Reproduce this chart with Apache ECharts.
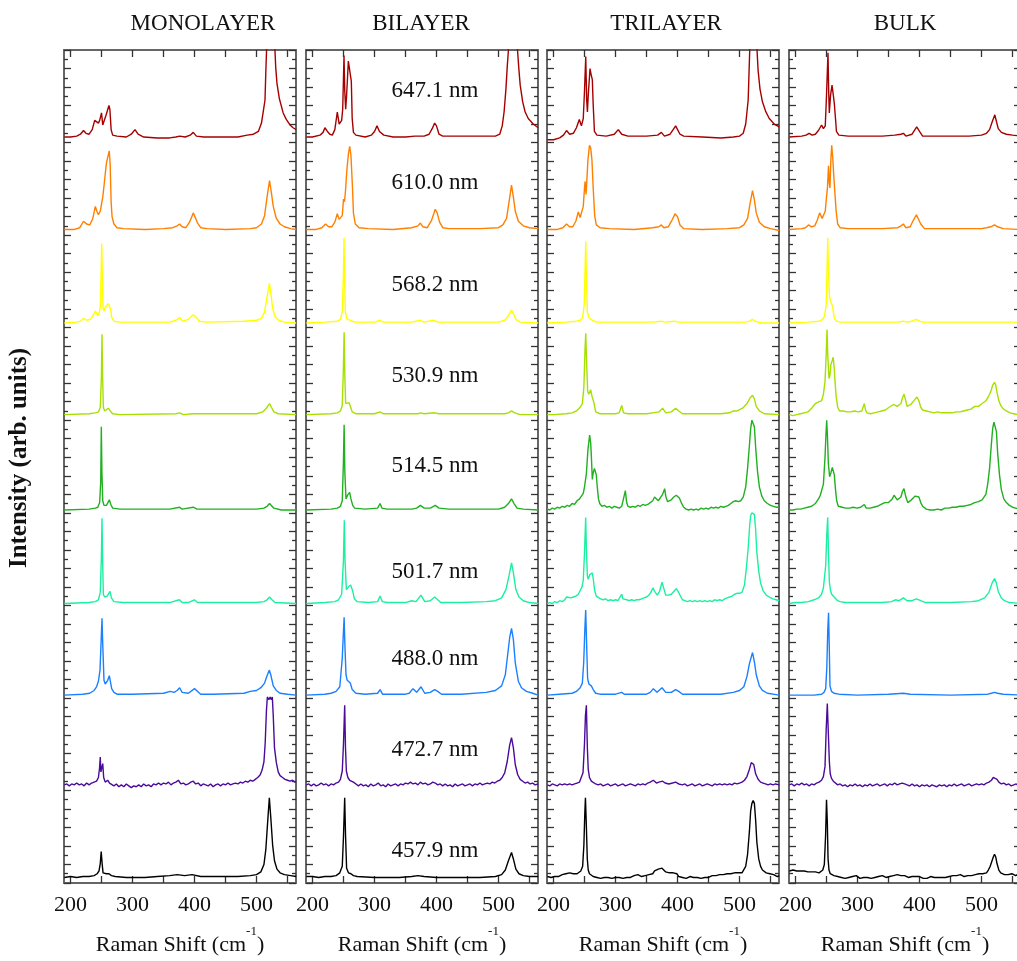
<!DOCTYPE html>
<html>
<head>
<meta charset="utf-8">
<script src="https://cdn.jsdelivr.net/npm/echarts@6/dist/echarts.min.js"></script>
<style>
  html, body { margin: 0; padding: 0; background: #fff; }
  #chart { width: 1017px; height: 961px; }
</style>
</head>
<body>
<div id="chart"></div>
<script>
// Raman spectra of few-layer samples at nine excitation wavelengths.
// Each trace: flat list of (Raman shift cm^-1, intensity above its own baseline, arb. units).

const panelTitles = ['MONOLAYER', 'BILAYER', 'TRILAYER', 'BULK'];
const wavelengths = ['457.9 nm', '472.7 nm', '488.0 nm', '501.7 nm', '514.5 nm', '530.9 nm', '568.2 nm', '610.0 nm', '647.1 nm'];
const traceColors = ['#000000', '#4a0a9a', '#1a80ff', '#1af0a0', '#20b020', '#a6e000', '#ffff00', '#ff8000', '#a50000'];
// vertical stacking offset of each wavelength (same order as wavelengths)
const offsets = [6, 106, 203, 302, 403, 506, 605, 706, 806];
const xTicks = [200, 250, 300, 350, 400, 450, 500, 550];
const xLabels = [200, 300, 400, 500];

// ---------- MONOLAYER ----------
const mono458 = [190,0, 200,1, 210,0, 220,1, 230,1, 238,2, 243,4, 246,7, 248,15, 249.5,28, 251,15, 252.5,5, 255,3, 258,4, 262,4, 266,2, 272,1, 290,0, 320,0, 340,1, 360,2, 372,3, 384,2, 396,3, 410,1, 440,1, 470,1, 490,2, 500,3, 507,6, 512,14, 515,30, 518,60, 520.7,86, 523,65, 526,35, 529,18, 533,9, 538,5, 545,3, 555,2, 564,1];
const mono473 = [190,0, 194,1, 198,-1, 202,1, 206,0, 210,2, 214,0, 218,1, 222,-1, 226,2, 230,0, 234,2, 238,3, 242,4, 245,8, 246.8,18, 248,30, 249,14, 250.5,12, 252,23, 253.5,8, 256,3, 260,5, 263,2, 266,4, 270,-1, 274,1, 278,-2, 282,0, 286,-2, 290,1, 294,-1, 298,-3, 302,-1, 306,-2, 310,0, 314,-2, 318,1, 322,-1, 326,0, 330,-2, 334,1, 338,0, 342,2, 346,0, 350,2, 354,1, 358,3, 362,0, 366,2, 370,3, 374,5, 378,1, 382,2, 386,0, 390,1, 394,3, 398,4, 402,1, 406,2, 410,-1, 414,1, 418,0, 422,-1, 426,1, 430,-2, 434,0, 438,1, 442,-1, 446,1, 450,0, 454,2, 458,0, 462,1, 466,2, 470,1, 474,3, 478,2, 482,4, 486,3, 490,5, 494,4, 498,6, 502,8, 506,11, 509,16, 512,25, 514,45, 516,80, 517.5,95, 520,92, 522,95, 524,92, 525.5,95, 527,75, 529,40, 532,24, 535,14, 538,10, 542,8, 546,6, 550,5, 554,4, 558,5, 562,3, 564,4];
const mono488 = [190,0, 220,1, 231,2, 238,5, 242,9, 245,15, 247.6,27, 249.5,60, 250.8,83, 252,55, 254,16, 256,12, 258,12, 260,16, 262.6,21, 264,16, 266.4,7, 270,3, 275,1, 300,1, 350,2, 361,4, 367,3, 372,5, 376,8, 380,3, 390,2, 400,7, 405,4, 410,1, 430,1, 480,2, 490,4, 500,5, 507,8, 513,13, 517,21, 520.7,27, 523,22, 527,10, 532,5, 538,2, 550,1, 564,0];
const mono502 = [190,0, 230,1, 240,2, 245,4, 248,12, 249.8,50, 250.8,92, 251.8,45, 253,10, 255,7, 259,8, 263.7,13, 266,6, 270,2, 285,1, 360,1, 375.5,4, 380,1, 390,1, 399.7,4, 405,1, 500,1, 512,2, 517,4, 521,7, 525,4, 530,1, 564,0];
const mono514 = [190,0, 230,1, 240,2, 244,3, 247,8, 248.7,30, 249.7,90, 250.7,40, 252,10, 254,5, 258,5, 262.6,11, 265,6, 268,2, 280,1, 360,1, 376,3, 380,1, 398,3, 404,1, 500,1, 512,2, 517,4, 521,7, 524,5, 528,2, 540,0, 564,0];
const mono531 = [190,0, 230,1, 240,2, 245,3, 248,8, 249.8,40, 250.8,87, 251.8,40, 253,8, 255,4, 258,4, 261,7, 264,4, 268,1, 280,0, 370,1, 376,2, 382,0, 398,1, 500,1, 510,3, 516,7, 521,12, 524,8, 528,3, 535,1, 564,0];
const mono568 = [190,0, 210,1, 216,2, 221,5, 226,3, 232,4, 237,9, 240,13, 244,8, 246.5,12, 248,17, 249.3,50, 250.3,86, 251.3,50, 252.5,16, 254,13, 256,17, 258,18, 261,21, 263.7,20, 265,14, 266.4,6, 270,2, 280,1, 340,1, 360,1, 370,3, 376,6, 381,2, 390,4, 398,9, 403,6, 408,2, 420,1, 480,2, 500,3, 508,5, 513,12, 517,28, 520.7,43, 523,33, 526,16, 530,7, 536,3, 545,1, 564,0];
const mono610 = [190,0, 205,0, 215,2, 221,9, 226,6, 231,5, 236,12, 240,25, 243,19, 245,16, 248,20, 250,18, 252,35, 254,47, 256,60, 258,72, 260,78, 262.5,85, 264,70, 265.5,30, 267,14, 270,6, 275,2, 285,1, 320,0, 350,1, 365,2, 372,4, 376,6, 380,3, 386,2, 392,8, 398,18, 401,16, 405,7, 410,2, 420,1, 450,0, 490,1, 500,2, 508,6, 513,15, 517,35, 521,53, 524,40, 527,25, 532,12, 538,6, 545,3, 555,1, 564,0];
const mono647 = [190,0, 200,0, 210,1, 216,3, 221,7, 225,4, 230,3, 235,8, 239,18, 242,20, 245,15, 247,18, 250,26, 252,13, 254,11, 257,23, 260,24, 262,34, 263.5,30, 265.5,8, 268,2, 275,1, 290,0, 298,3, 304,8, 309,3, 318,0, 340,-1, 360,-1, 370,0, 376,1, 385,0, 393,2, 398,5, 403,1, 415,0, 440,0, 470,0, 485,2, 495,3, 503,6, 508,15, 511,28, 513.7,40, 515,70, 516.5,100, 519,180, 522,200, 526,150, 529,105, 531,75, 533,58, 537,41, 543,26, 548,19, 554,13, 559,10, 564,8];

// ---------- BILAYER ----------
const bi458 = [190,1, 200,1, 210,0, 220,1, 230,1, 238,2, 244,5, 248,12, 250,45, 251.9,86, 253.3,45, 255,10, 258,5, 262,4, 266,2, 272,1, 300,0, 340,0, 360,1, 370,2, 380,1, 400,0, 430,0, 470,0, 495,1, 505,3, 511,8, 516,18, 521,27, 524,20, 528,9, 533,4, 540,2, 550,1, 564,1];
const bi473 = [190,0, 194,1, 198,-1, 202,1, 206,-1, 210,0, 214,2, 218,0, 222,1, 226,-1, 230,1, 234,0, 238,2, 242,3, 245,6, 248,15, 250,45, 251.9,86, 253.2,40, 254.6,15, 257,8, 260,5, 263,6, 266,3, 270,1, 274,-1, 278,1, 282,-1, 286,0, 290,-2, 294,1, 298,-1, 302,0, 306,2, 310,-1, 314,0, 318,-2, 322,1, 326,-1, 330,0, 334,1, 338,-1, 342,1, 346,0, 350,2, 354,1, 358,3, 362,1, 366,2, 370,0, 374,3, 378,1, 382,2, 386,0, 390,1, 394,3, 398,2, 402,0, 406,1, 410,-1, 414,1, 418,-1, 422,0, 426,-2, 430,1, 434,-1, 438,0, 442,1, 446,-1, 450,0, 454,1, 458,-1, 462,1, 466,0, 470,2, 474,0, 478,1, 482,2, 486,1, 490,3, 494,2, 498,4, 502,5, 506,8, 510,13, 514,25, 518,43, 521,51, 524,40, 527,22, 531,11, 535,6, 539,4, 543,2, 547,3, 551,1, 555,2, 559,0, 564,1];
const bi488 = [190,0, 220,1, 230,2, 238,4, 244,9, 248,40, 250,70, 251,84, 252.2,55, 254,22, 256,16, 259,17, 261,13, 264,6, 270,2, 285,1, 305,2, 309,6, 313,1, 350,1, 356,2, 362,7, 368,3, 375,9, 381,2, 390,3, 397,6, 402,4, 408,1, 440,1, 480,3, 495,5, 505,10, 511,22, 515,45, 518,62, 521,72, 524,60, 527,35, 532,15, 537,8, 545,4, 555,2, 564,0];
const bi502 = [190,0, 220,1, 236,2, 242,4, 247,10, 249.8,45, 251.3,90, 252.5,45, 254.6,15, 258,18, 261.5,20, 263,21, 265,13, 267.5,5, 272,2, 290,1, 305,2, 309,8, 312.5,2, 320,1, 350,1, 360,3, 367,2, 375,9, 381,2, 390,3, 397,7, 402,4, 407,1, 440,1, 480,2, 495,3, 505,6, 512,15, 517,30, 521,44, 524,33, 528,15, 533,7, 540,3, 550,1, 564,0];
const bi514 = [190,0, 230,1, 240,2, 245,4, 248,10, 249.8,50, 251,92, 252.2,40, 254,12, 256.5,16, 259.9,19, 262,12, 264.8,5, 268,2, 285,1, 305,2, 309,7, 312,2, 320,1, 360,1, 368,2, 374,5, 380,2, 390,2, 398,5, 404,2, 420,1, 500,1, 510,3, 516,7, 521,12, 525,7, 530,2, 540,1, 564,0];
const bi531 = [190,0, 230,1, 240,2, 245,4, 248,10, 249.8,50, 251,89, 252.2,40, 253.5,12, 256,10, 259,13, 261,9, 264,3, 270,1, 300,1, 309,3, 314,1, 370,1, 374,2, 380,1, 397,2, 404,1, 510,1, 516,2, 521,4, 526,2, 535,0, 564,0];
const bi568 = [190,0, 220,1, 240,2, 245,4, 248,12, 249.8,50, 250.8,92, 251.8,45, 253,12, 255,5, 260,3, 268,1, 300,1, 309,3, 314,1, 360,1, 374,3, 380,1, 395,3, 402,1, 500,1, 510,3, 516,8, 521,14, 524,10, 528,4, 535,1, 564,0];
const bi610 = [190,0, 205,0, 215,2, 221,6, 226,3, 231,3, 236,8, 240,17, 243,11, 245,10, 248,15, 250,33, 251.5,30, 253,40, 255.5,65, 258,82, 260,90, 262,80, 264.5,45, 266,18, 269,6, 275,2, 290,1, 330,0, 360,2, 370,4, 374,7, 378,3, 385,2, 392,10, 398,22, 401,18, 405,8, 410,2, 420,1, 470,1, 500,2, 507,5, 513,12, 517,30, 521,48, 524,35, 527,20, 532,9, 540,4, 550,2, 564,1];
const bi647 = [190,0, 200,0, 212,2, 217,5, 220,10, 224,6, 228,3, 232,2, 236,8, 240,27, 243,14, 245,12, 247,18, 248.7,30, 249.8,60, 250.8,88, 252,50, 253.5,30, 255,45, 257.8,82, 260.5,84, 262.6,60, 264,20, 266,5, 270,2, 285,0, 295,2, 300,6, 304,12, 308,6, 315,2, 330,0, 350,0, 365,1, 368,3, 372,1, 380,1, 388,3, 393,9, 397,15, 400,12, 404,3, 410,1, 440,1, 470,1, 495,1, 502,3, 506,12, 509,27, 512,52, 514,75, 516,94, 519,170, 523,210, 527,160, 530,100, 533,72, 535,56, 539,38, 543,27, 548,20, 556,14, 564,10];

// ---------- TRILAYER ----------
const tri458 = [190,1, 193,2, 196,0, 199,2, 202,1, 205,3, 208,1, 211,2, 214,3, 217,2, 220,4, 223,3, 226,5, 229,3, 232,4, 235,6, 238,4, 241,6, 244,7, 247,12, 249,35, 250.5,70, 251.5,86, 252.8,60, 254.5,20, 256,8, 258,4, 261,2, 264,1, 267,2, 270,0, 273,1, 276,-1, 279,1, 282,0, 285,2, 288,0, 291,1, 294,-1, 297,1, 300,0, 303,2, 306,0, 309,1, 312,-1, 315,1, 318,0, 321,2, 324,0, 327,1, 330,2, 333,1, 336,3, 339,2, 342,1, 345,3, 348,2, 351,4, 354,3, 357,5, 360,4, 363,7, 366,6, 369,9, 372,7, 375,10, 378,8, 381,6, 384,8, 387,5, 390,4, 393,5, 396,3, 399,4, 402,1, 405,2, 408,0, 411,1, 414,-1, 417,0, 420,1, 423,-1, 426,0, 429,1, 432,0, 435,1, 438,-1, 441,1, 444,0, 447,2, 450,0, 453,1, 456,2, 459,1, 462,2, 465,1, 468,3, 471,2, 474,3, 477,2, 480,4, 483,3, 486,4, 489,3, 492,5, 495,4, 498,5, 501,6, 504,5, 507,7, 510,12, 513,25, 516,50, 518,72, 520,80, 522,83, 524,80, 526,62, 528,38, 531,20, 534,12, 537,8, 540,6, 543,5, 546,3, 549,4, 552,2, 555,3, 558,2, 561,1, 564,2];
const tri473 = [190,0, 194,-1, 198,1, 202,0, 206,-1, 210,1, 214,0, 218,1, 222,0, 226,1, 230,0, 234,1, 238,2, 242,3, 245,5, 247.6,13, 250,45, 251.5,75, 253,86, 254.6,40, 256,17, 258,8, 261,4, 264,2, 268,1, 272,0, 276,1, 280,-1, 284,0, 288,1, 292,-1, 296,0, 300,1, 304,-1, 308,0, 312,1, 316,-1, 320,0, 324,1, 328,0, 332,-1, 336,1, 340,0, 344,1, 348,0, 352,2, 356,3, 361,5, 366,2, 370,3, 376,4, 380,2, 386,1, 392,2, 397,3, 402,1, 408,0, 412,1, 416,-1, 420,0, 424,1, 428,-1, 432,0, 436,1, 440,-1, 444,0, 448,1, 452,0, 456,-1, 460,1, 464,0, 468,1, 472,0, 476,1, 480,0, 484,1, 488,0, 492,2, 496,1, 500,2, 504,3, 508,5, 512,9, 516,17, 519,24, 521,26, 523,22, 526,12, 530,6, 534,3, 538,2, 542,1, 546,0, 550,1, 554,0, 558,1, 564,0];
const tri488 = [190,0, 210,1, 230,2, 237,4, 243,8, 246.5,13, 248.7,35, 250.5,70, 251.9,92, 253.2,60, 255,18, 257,12, 261,10, 264,6, 268,2, 275,1, 300,1, 310,3, 314,1, 350,1, 356,3, 361,7, 367,3, 375,8, 381,3, 390,3, 397,6, 402,4, 408,1, 440,1, 470,1, 490,3, 500,5, 507,9, 512,20, 516,34, 521,46, 524,36, 527,22, 532,10, 537,5, 545,2, 564,0];
const tri502 = [190,0, 194,1, 198,0, 202,2, 206,1, 210,3, 214,2, 218,4, 221,7, 224,5, 228,6, 232,7, 236,8, 240,10, 243,12, 246,18, 248,25, 250,55, 251.9,93, 253,60, 254.6,30, 256,26, 258.3,31, 261,32, 262.6,33, 264,27, 266.4,14, 269,8, 272,6, 276,5, 280,4, 284,5, 288,3, 292,4, 296,3, 300,4, 304,3, 307,5, 310,10, 312,5, 314.2,3, 318,4, 322,3, 326,4, 330,3, 334,4, 338,4, 342,5, 346,6, 350,7, 354,9, 357,12, 360.5,17, 363,13, 367.5,9, 371,13, 375,23, 378,16, 381,9, 385,9, 390,10, 394,13, 398,16, 401,13, 404,9, 408,4, 412,3, 416,2, 420,3, 424,2, 428,3, 432,2, 436,3, 440,2, 444,3, 448,2, 452,3, 456,2, 460,4, 464,3, 468,4, 472,3, 476,5, 480,6, 484,7, 488,8, 492,10, 496,11, 500,11, 504,12, 508,20, 511,38, 514,60, 516.5,85, 518,95, 520,98, 522,98, 524,96, 526,80, 528,55, 531,35, 534,22, 538,14, 543,9, 548,7, 554,5, 559,4, 564,3];
const tri514 = [190,1, 194,0, 198,2, 202,1, 206,3, 210,2, 214,4, 218,3, 222,5, 226,4, 230,7, 234,6, 238,10, 242,12, 245,15, 248,18, 250,25, 253,39, 255.5,65, 258.3,81, 260,72, 261,59, 262.6,33, 264,40, 266,45, 267.5,46, 269,38, 270.7,24, 272.5,12, 274.5,7, 278,4, 282,5, 286,3, 290,4, 294,2, 298,4, 302,3, 306,2, 310,4, 313,6, 315.9,21, 318,8, 320,4, 324,3, 328,4, 332,3, 336,5, 340,4, 344,6, 348,5, 352,6, 356,8, 360,10, 363,14, 365.9,16, 369,10, 372,11, 376,17, 379.3,23, 381,15, 384,9, 387,10, 390,11, 394,14, 398,16, 400.8,17, 403,13, 406,8, 410,3, 414,1, 418,0, 422,1, 426,0, 430,1, 434,0, 438,2, 442,1, 446,2, 450,1, 454,3, 458,2, 462,3, 466,2, 470,4, 474,3, 478,4, 482,5, 486,7, 490,9, 494,10, 498,9, 502,10, 506,14, 510,25, 513,45, 516,70, 518,88, 520,97, 522,97, 524,90, 526,68, 529,42, 532,25, 536,15, 540,10, 545,7, 550,5, 555,4, 560,3, 564,3];
const tri531 = [190,0, 200,0, 220,1, 230,2, 237,4, 243,8, 246.5,12, 249,30, 250.8,70, 252,88, 253.2,60, 255.1,25, 257,22, 259.9,27, 262,20, 264.8,14, 268,3, 275,1, 300,1, 306,2, 310,10, 313,2, 320,1, 350,1, 360,2, 370,3, 376,7, 381,2, 390,3, 397,7, 402,4, 408,1, 440,1, 470,1, 484,2, 490,4, 496,4, 505,7, 512,12, 517,18, 521,21, 524,17, 527,9, 532,4, 540,1, 564,0];
const tri568 = [190,0, 220,1, 237,2, 243,3, 247,6, 249.5,20, 251,60, 252,88, 253,50, 254.6,12, 257,6, 262,3, 270,1, 300,1, 310,1, 360,1, 374,2, 380,1, 395,2, 402,1, 510,1, 516,2, 521,4, 525,2, 535,0, 564,0];
const tri610 = [190,0, 205,0, 215,2, 221,6, 226,3, 231,3, 236,9, 240,19, 243,13, 245,12, 248,25, 250,45, 251,52, 252.5,38, 253.5,50, 255.5,75, 258,91, 260,88, 262,75, 264,45, 266.4,15, 269,5, 275,2, 290,1, 330,0, 360,2, 370,3, 374,5, 378,2, 385,3, 391,10, 396,17, 400,14, 404,5, 410,1, 440,0, 480,1, 500,2, 507,5, 513,12, 517,28, 521,42, 524,32, 527,18, 532,8, 540,3, 550,1, 564,-1];
const tri647 = [190,-3, 200,-3, 210,-1, 216,2, 221,7, 226,3, 232,4, 237,10, 241.6,19, 245,12, 248,20, 250,50, 252,87, 253.5,40, 254.7,27, 256,45, 258.9,74, 260.5,68, 262.6,62, 264,35, 266,6, 270,2, 285,1, 298,3, 304.5,8, 310,3, 320,1, 350,1, 368,2, 374,5, 379,1, 388,3, 393,8, 397,12, 400,10, 404,3, 410,1, 440,0, 470,-1, 490,0, 500,1, 506,4, 510,14, 514,40, 516.5,94, 519,160, 522,200, 525,160, 527,110, 530,72, 533,52, 537,38, 542,28, 548,20, 556,14, 564,11];

// ---------- BULK ----------
const bulk458 = [190,7, 193,6, 196,8, 199,6, 202,7, 205,5, 208,7, 211,6, 214,7, 217,5, 220,6, 223,4, 226,6, 229,5, 232,6, 235,4, 238,5, 241,6, 244,8, 246.5,14, 248.5,45, 250,84, 251.3,60, 252.5,20, 254,8, 256,4, 259,3, 262,2, 265,3, 268,1, 271,2, 274,0, 277,1, 280,-1, 283,1, 286,0, 289,-1, 292,1, 295,0, 298,2, 301,0, 304,-1, 307,1, 310,0, 313,2, 316,0, 319,1, 322,-1, 325,1, 328,0, 331,2, 334,1, 337,0, 340,2, 343,1, 346,0, 349,2, 352,1, 355,0, 358,2, 361,1, 364,3, 367,1, 370,2, 373,0, 376,2, 379,1, 382,0, 385,2, 388,1, 391,0, 394,1, 397,-1, 400,1, 403,0, 406,-1, 409,1, 412,-1, 415,0, 418,1, 421,-1, 424,0, 427,1, 430,0, 433,2, 436,0, 439,1, 442,0, 445,2, 448,1, 451,0, 454,2, 457,1, 460,2, 463,1, 466,3, 469,2, 472,1, 475,3, 478,2, 481,3, 484,2, 487,4, 490,3, 493,2, 496,4, 499,3, 502,4, 505,3, 508,5, 511,8, 514,12, 517,18, 519,22, 521,25, 523,22, 525,15, 528,8, 531,5, 534,4, 537,3, 540,4, 543,3, 546,2, 549,4, 552,3, 555,2, 558,3, 561,4, 564,3];
const bulk473 = [190,0, 194,1, 198,-1, 202,1, 206,0, 210,2, 214,0, 218,1, 222,-1, 226,1, 230,0, 234,2, 238,3, 242,5, 245,9, 247.6,20, 249.5,60, 251.3,88, 253,55, 254.6,25, 256,12, 258,7, 261,4, 264,2, 268,0, 272,1, 276,-1, 280,0, 284,-2, 288,0, 292,-1, 296,1, 300,-1, 304,0, 308,-2, 312,0, 316,-1, 320,1, 324,-1, 328,0, 332,1, 336,-1, 340,0, 344,1, 348,-1, 352,1, 356,0, 360,2, 364,0, 368,1, 372,2, 376,1, 380,0, 384,-1, 388,1, 392,-1, 396,0, 400,-2, 404,0, 408,-1, 412,0, 416,-2, 420,0, 424,-1, 428,-2, 432,0, 436,-1, 440,0, 444,-2, 448,0, 452,-1, 456,1, 460,-1, 464,0, 468,1, 472,-1, 476,0, 480,1, 484,-1, 488,0, 492,1, 496,0, 500,1, 504,0, 508,2, 512,3, 516,5, 519,8, 522,9, 525,6, 528,3, 532,1, 536,2, 540,0, 544,1, 548,-1, 552,0, 556,1, 560,-1, 564,0];
const bulk488 = [190,0, 230,0, 242,1, 246,3, 248.7,7, 250.5,30, 252,70, 253.3,89, 254.5,50, 255.6,10, 258,4, 262,2, 270,1, 300,0, 350,1, 374,2, 385,1, 450,0, 510,1, 516,2, 521,3, 526,2, 535,1, 564,0];
const bulk502 = [190,0, 200,1, 210,1, 220.7,2, 230,4, 237,6, 242,10, 245,17, 248.7,41, 250.5,75, 251.9,93, 253.2,55, 254.6,23, 256.5,14, 258.3,10, 261,8, 263.7,6, 268,3, 272,2, 280,1, 300,1, 340,1, 355,2, 361,4, 367,3, 374,6, 380,3, 388,3, 395,5, 402,3, 410,1, 450,1, 484,2, 495,3, 505,6, 512,12, 517,22, 521,27, 524,22, 527,13, 532,6, 537,3, 545,1, 564,0];
const bulk514 = [190,0, 193,1, 196,0, 199,2, 202,1, 205,2, 208,1, 211,3, 214,2, 217,4, 220,3, 223,5, 226,4, 229,6, 232,7, 235,9, 238,13, 240,16, 242,18, 245,28, 247.6,57, 249,80, 250.3,97, 251.5,80, 253,50, 255,36, 257,40, 259.4,46, 261,44, 262.6,38, 264.5,22, 266.4,10, 269,4, 272,2, 275,3, 278,1, 281,2, 284,0, 287,2, 290,1, 293,3, 296,1, 299,2, 302,1, 305,3, 308,2, 311,6, 314,2, 317,3, 320,2, 323,4, 326,3, 329,5, 332,4, 335,5, 338,6, 341,7, 344,8, 347,9, 350,8, 353,9, 356,12, 359,16, 361,17, 364,11, 367,10, 370,14, 372.5,20, 375,23, 378,14, 381,8, 384,9, 387,11, 390,12, 393,15, 396,17, 399,14, 402,8, 405,4, 408,3, 411,1, 414,2, 417,0, 420,1, 423,0, 426,2, 429,1, 432,2, 435,0, 438,1, 441,2, 444,1, 447,2, 450,1, 453,3, 456,2, 459,3, 462,2, 465,4, 468,3, 471,4, 474,3, 477,5, 480,4, 483,6, 486,7, 489,8, 492,9, 495,9, 498,10, 501,11, 504,13, 507,17, 510,28, 513,45, 516,72, 518,88, 520,95, 522,95, 524,85, 526,62, 529,38, 532,22, 536,12, 540,8, 545,5, 550,3, 555,2, 560,1, 564,1];
const bulk531 = [190,0, 193,1, 196,-1, 199,1, 202,0, 205,2, 208,1, 211,3, 214,2, 217,4, 220,3, 223,5, 226,7, 229,6, 232,12, 235,10, 238,14, 240,16, 242,15, 245,22, 247.6,36, 249.5,65, 250.8,92, 252,65, 254,39, 255.5,42, 257,54, 259,58, 260.8,62, 262.5,50, 263.7,36, 265.5,20, 268,8, 271,4, 274,3, 277,4, 280,2, 283,3, 286,1, 289,3, 292,2, 295,4, 298,2, 301,3, 304,2, 307,4, 309,8, 311,12, 313,5, 315,2, 318,3, 321,1, 324,3, 327,2, 330,4, 333,3, 336,5, 339,4, 342,6, 345,5, 348,7, 351,8, 354,7, 358,11, 361,13, 364,9, 367,8, 370,12, 372.5,18, 375,22, 377.5,16, 380,9, 383,10, 386,11, 389,12, 392,16, 396,19, 399,15, 402,8, 405,5, 408,3, 411,4, 414,2, 417,3, 420,1, 423,2, 426,1, 429,3, 432,1, 435,2, 438,0, 441,2, 444,1, 447,2, 450,0, 453,2, 456,1, 459,3, 462,2, 465,3, 468,2, 471,4, 474,3, 477,5, 480,4, 483,6, 486,7, 489,9, 492,10, 495,9, 498,11, 501,12, 504,13, 507,15, 510,18, 513,22, 516,27, 518,32, 521,35, 523,32, 525,24, 528,15, 531,10, 534,7, 537,5, 540,4, 543,3, 546,2, 549,3, 552,1, 555,2, 558,0, 561,1, 564,0];
const bulk568 = [190,0, 220,1, 238,2, 244,4, 247,8, 249.5,20, 251,60, 252,92, 253,60, 254.6,30, 256,25, 258.3,23, 260,17, 262.6,5, 266,2, 272,1, 300,1, 365,1, 374,2, 380,1, 388,2, 394,4, 400,2, 405,1, 520,1, 524,1, 564,1];
const bulk610 = [190,0, 210,1, 216,2, 221,5, 226,3, 231,4, 235,10, 239,18, 243,12, 245,11, 248,20, 250,35, 251.5,45, 253.2,69, 254.5,50, 255.6,45, 257,75, 258.4,91, 260,78, 262,55, 264,35, 265.5,20, 268,6, 272,2, 285,1, 340,1, 365,2, 370,4, 374,6, 378,2, 385,3, 390,10, 395,16, 398,14, 402,6, 408,1, 440,1, 500,1, 508,2, 515,3, 521,5, 526,3, 535,1, 564,0];
const bulk647 = [190,0, 210,1, 217,2, 222,4, 227,2, 232,3, 237,7, 242,13, 245,9, 248,12, 250,45, 252.4,91, 253.5,50, 254.5,26, 256.5,45, 258.9,56, 261,45, 262.6,36, 264.5,20, 266,6, 270,2, 285,1, 340,1, 360,2, 370,3, 374,4, 378,1, 388,3, 395.5,11, 400,6, 405,1, 440,1, 480,1, 500,2, 508,4, 513,8, 517,16, 521.5,24, 524,17, 527,9, 532,5, 540,3, 550,2, 564,1];

const panelTraces = [
  [mono458, mono473, mono488, mono502, mono514, mono531, mono568, mono610, mono647],
  [bi458, bi473, bi488, bi502, bi514, bi531, bi568, bi610, bi647],
  [tri458, tri473, tri488, tri502, tri514, tri531, tri568, tri610, tri647],
  [bulk458, bulk473, bulk488, bulk502, bulk514, bulk531, bulk568, bulk610, bulk647]
];

// ---------- layout ----------
const FONT = "'Liberation Serif', 'Times New Roman', serif";
const gridLeft = [64, 306, 547, 789];
const gridTop = 50, gridW = 232, gridH = 833;
const X_MIN = 189.5, X_MAX = 563.7;
const titleCx = [203, 421, 666, 905];
const wlLabelX = 435;
const wlLabelY = [851, 750, 659, 572, 466, 376, 285, 183, 91];

const frameStyle = { color: '#666', width: 2 };
const tickStyle = { color: '#333', width: 1.3 };

const grids = [], xAxes = [], yAxes = [], series = [];
gridLeft.forEach((left, p) => {
  grids.push({ left: left, top: gridTop, width: gridW, height: gridH, outerBoundsMode: 'none', containLabel: false });
  const xBase = {
    type: 'value', gridIndex: p, min: X_MIN, max: X_MAX,
    splitLine: { show: false },
    axisLine: { show: true, onZero: false, lineStyle: frameStyle },
    axisTick: { show: true, inside: true, length: 7, customValues: xTicks, lineStyle: tickStyle }
  };
  xAxes.push(Object.assign({}, xBase, {
    position: 'bottom',
    axisLabel: { show: true, customValues: xLabels, margin: 11, fontFamily: FONT, fontSize: 22, color: '#111' }
  }));
  xAxes.push(Object.assign({}, xBase, { position: 'top', axisLabel: { show: false } }));
  const yBase = {
    type: 'value', gridIndex: p, min: 0, max: 900, interval: 20,
    splitLine: { show: false }, minorSplitLine: { show: false },
    axisLine: { show: true, onZero: false, lineStyle: frameStyle },
    axisTick: { show: true, inside: true, length: 7, lineStyle: tickStyle },
    minorTick: { show: true, splitNumber: 2, length: 4, lineStyle: tickStyle },
    axisLabel: { show: false }
  };
  yAxes.push(Object.assign({}, yBase, { position: 'left' }));
  yAxes.push(Object.assign({}, yBase, { position: 'right' }));

  panelTraces[p].forEach((flat, k) => {
    const pts = [];
    for (let i = 0; i < flat.length; i += 2) pts.push([flat[i], flat[i + 1] + offsets[k]]);
    series.push({
      type: 'line', name: panelTitles[p] + ' ' + wavelengths[k],
      xAxisIndex: p * 2, yAxisIndex: p * 2,
      data: pts, showSymbol: false, symbol: 'none', silent: true, clip: true,
      lineStyle: { color: traceColors[k], width: 1.4 },
      itemStyle: { color: traceColors[k] },
      z: 3
    });
  });
});

const graphic = [];
panelTitles.forEach((t, p) => {
  graphic.push({ type: 'text', x: titleCx[p], y: 24, z: 10,
    style: { text: t, fontFamily: FONT, fontSize: 23, fill: '#111', align: 'center', verticalAlign: 'middle' } });
  graphic.push({ type: 'text', x: gridLeft[p] + gridW / 2, y: 945, z: 10,
    style: {
      text: '{a|Raman Shift (cm}{b|-1}{a|)}', align: 'center', verticalAlign: 'middle',
      rich: {
        a: { fontFamily: FONT, fontSize: 22, fill: '#111', lineHeight: 40, verticalAlign: 'middle' },
        b: { fontFamily: FONT, fontSize: 13, fill: '#111', lineHeight: 14, verticalAlign: 'top' }
      }
    } });
});
wavelengths.forEach((w, k) => {
  graphic.push({ type: 'text', x: wlLabelX, y: wlLabelY[k], z: 10,
    style: { text: w, fontFamily: FONT, fontSize: 23, fill: '#111', align: 'center', verticalAlign: 'middle' } });
});
graphic.push({ type: 'text', x: 20, y: 458, rotation: Math.PI / 2, z: 10,
  style: { text: 'Intensity (arb. units)', fontFamily: FONT, fontSize: 25, fontWeight: 'bold', fill: '#111', align: 'center', verticalAlign: 'middle' } });

const chart = echarts.init(document.getElementById('chart'), null, { renderer: 'canvas' });
chart.setOption({
  animation: false,
  backgroundColor: '#ffffff',
  grid: grids,
  xAxis: xAxes,
  yAxis: yAxes,
  series: series,
  graphic: graphic
});
</script>
</body>
</html>
